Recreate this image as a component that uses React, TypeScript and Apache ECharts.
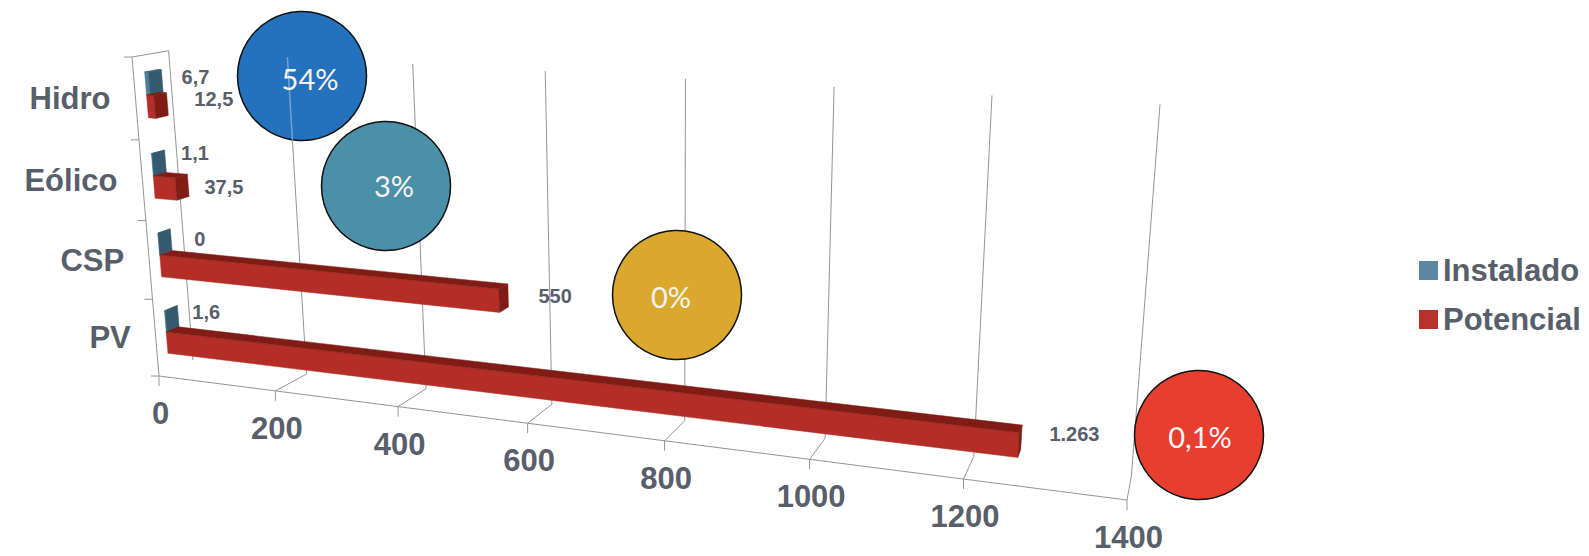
import React, { useEffect, useRef } from "react";
import * as echarts from "echarts";

const categories = ["Hidro", "Eólico", "CSP", "PV"];
const instalado = [6.7, 1.1, 0, 1.6];
const potencial = [12.5, 37.5, 550, 1263];
const valueTicks = [0, 200, 400, 600, 800, 1000, 1200, 1400];
const shareLabels = ["54%", "3%", "0%", "0,1%"];

const AXIS_MAX = 1400;
const FONT = '"Liberation Sans", Arial, sans-serif';
const TEXT = "#585e6a";
const RULE = "#949494";

// Perspective of the 3D box: images of three cube edges leaving the origin, each with
// its homogeneous weight, which sets how strongly that direction converges.
const ORIGIN = [159, 376];
const VALUE_END = [1127, 500];
const DEPTH_END = [193, 360];
const HEIGHT_END = [132, 57];
const VALUE_WEIGHT = 0.82;
const DEPTH_WEIGHT = 1.0324;
const HEIGHT_WEIGHT = 0.95;

function buildProjection() {
  const [ox, oy] = ORIGIN;
  const column = (p: number[], s: number) => [s * p[0] - ox, s * p[1] - oy, s - 1];
  const cU = column(VALUE_END, VALUE_WEIGHT);
  const cD = column(DEPTH_END, DEPTH_WEIGHT);
  const cH = column(HEIGHT_END, HEIGHT_WEIGHT);
  return (u: number, dp: number, h: number): number[] => {
    const x = u * cU[0] + dp * cD[0] + h * cH[0] + ox;
    const y = u * cU[1] + dp * cD[1] + h * cH[1] + oy;
    const w = u * cU[2] + dp * cD[2] + h * cH[2] + 1;
    return [x / w, y / w];
  };
}
const project = buildProjection();

const BAR_NEAR = 0.3;
const BAR_FAR = 0.65;

// Where each series sits inside its category band, from the band's centre, in band heights.
const instaladoSpan = [0.017, 0.297];
const potencialSpan = [-0.263, 0.017];

// Value label offsets from the end of the bar's front face.
const instaladoNudge = [[46, -7], [42, -12], [41, -5], [40, -9]];
const potencialNudge = [[59, -8], [48, -2], [56, -5], [56, -11]];

const instaladoColors = { front: "#4f7c98", top: "#2f566e", side: "#35596f" };
const potencialColors = { front: "#b22e26", top: "#7f1c16", side: "#7f1c16" };

// Callout discs: centre of the disc and of its caption.
const calloutCentres = [[302, 76], [386, 186], [677, 295], [1199, 435]];
const captionCentres = [[310, 78], [394, 185], [671, 296], [1200, 436]];
const calloutColors = ["#2472bd", "#4b8fa8", "#d9a82c", "#e83e30"];
const CALLOUT_RADIUS = 64.5;

const formatValue = (v: number) =>
  v >= 1000
    ? String(v).replace(/\B(?=(\d{3})+$)/g, ".")
    : String(v).replace(".", ",");

const line = (a: number[], b: number[], stroke = RULE, lineWidth = 1) => ({
  type: "line",
  shape: { x1: a[0], y1: a[1], x2: b[0], y2: b[1] },
  style: { stroke, lineWidth, fill: "none" },
});

const label = (text: string, x: number, y: number, size: number, align = "center", fill = TEXT, weight = "bold") => ({
  type: "text",
  x,
  y,
  style: { text, fill, fontFamily: FONT, fontSize: size, fontWeight: weight, align, verticalAlign: "middle" },
});

function barSeries(name: string, values: number[], span: number[], colors: any, nudge: number[][], legendColor: string) {
  return {
    type: "custom",
    name,
    silent: true,
    z: 4,
    itemStyle: { color: legendColor },
    encode: { x: 0, y: 1 },
    data: values.map((v, i) => [v, i]),
    renderItem: (params: any, api: any) => {
      const cs = params.coordSys;
      const i = api.value(1);
      const [px, py] = api.coord([api.value(0), i]);
      const band = api.size([0, 1])[1] / cs.height;
      const u = (px - cs.x) / cs.width;
      const mid = 1 - (py - cs.y) / cs.height;
      const h0 = mid + span[0] * band;
      const h1 = mid + span[1] * band;
      const face = (points: number[][], fill: string) => ({
        type: "polygon",
        shape: { points },
        style: { fill, stroke: fill, lineWidth: 0.5 },
      });
      const endMid = project(u, BAR_NEAR, (h0 + h1) / 2);
      return {
        type: "group",
        children: [
          face([project(0, BAR_NEAR, h0), project(u, BAR_NEAR, h0), project(u, BAR_NEAR, h1), project(0, BAR_NEAR, h1)], colors.front),
          face([project(0, BAR_NEAR, h1), project(u, BAR_NEAR, h1), project(u, BAR_FAR, h1), project(0, BAR_FAR, h1)], colors.top),
          face([project(u, BAR_NEAR, h0), project(u, BAR_FAR, h0), project(u, BAR_FAR, h1), project(u, BAR_NEAR, h1)], colors.side),
          label(formatValue(values[i]), endMid[0] + nudge[i][0], endMid[1] + nudge[i][1], 20),
        ],
      };
    },
  };
}

export default function App() {
  const ref = useRef<HTMLDivElement>(null);

  useEffect(() => {
    document.body.style.margin = "0";
    const chart = echarts.init(ref.current!, undefined, { renderer: "svg" });

    const floorLine = {
      type: "custom",
      silent: true,
      z: 1,
      encode: { x: 0 },
      data: [[0, 0]],
      renderItem: () => ({
        type: "group",
        children: [
          line(project(0, 0, 0), project(1, 0, 0)),
          line(project(0, 0, 0), project(0, 0, 1)),
          line(project(0, 0, 1), project(0, 1, 1)),
          line(project(0, 1, 1), project(0, 1, 0)),
          line(project(0, 0, 0), [project(0, 0, 0)[0] - 8, project(0, 0, 0)[1]]),
        ],
      }),
    };

    const valueRules = {
      type: "custom",
      silent: true,
      z: 2,
      encode: { x: 0, y: 1 },
      data: valueTicks.map((v) => [v, 0]),
      renderItem: (params: any, api: any) => {
        const cs = params.coordSys;
        const value = api.value(0);
        const u = (api.coord([value, 0])[0] - cs.x) / cs.width;
        const foot = project(u, 0, 0);
        const children: any[] = [
          line(foot, [foot[0], foot[1] + 10]),
          label(String(value), foot[0] + 1.5, foot[1] + 37.5, 31),
        ];
        if (value > 0) {
          children.push(line(foot, project(u, 1, 0)), line(project(u, 1, 0), project(u, 1, 1)));
        }
        return { type: "group", children };
      },
    };

    const categoryLabels = {
      type: "custom",
      silent: true,
      z: 2,
      encode: { y: 1 },
      data: categories.map((_, i) => [0, i]),
      renderItem: (params: any, api: any) => {
        const cs = params.coordSys;
        const i = api.value(1);
        const py = api.coord([0, i])[1];
        const band = api.size([0, 1])[1] / cs.height;
        const mid = 1 - (py - cs.y) / cs.height;
        const anchor = project(0, 0, mid);
        const tick = project(0, 0, mid + band / 2);
        return {
          type: "group",
          children: [
            line(tick, [tick[0] - 8, tick[1]]),
            label(categories[i], anchor[0] - 25, anchor[1], 31, "right"),
          ],
        };
      },
    };

    const uLeft = 200 / AXIS_MAX;
    const callouts: any[] = [];
    shareLabels.forEach((_, i) => {
      callouts.push({
        type: "circle",
        z: 10,
        shape: { cx: calloutCentres[i][0], cy: calloutCentres[i][1], r: CALLOUT_RADIUS },
        style: { fill: calloutColors[i], stroke: "#111111", lineWidth: 1.5 },
      });
    });
    // The 200 rule shows faintly through the first disc.
    callouts.push({
      ...line(project(uLeft, 1, 1), project(uLeft, 1, 0.744), "rgba(190,200,212,0.55)", 1.5),
      z: 11,
    });
    shareLabels.forEach((text, i) => {
      callouts.push({
        type: "text",
        z: 12,
        x: captionCentres[i][0],
        y: captionCentres[i][1],
        style: {
          text,
          fill: "#f4f4f4",
          fontFamily: 'Lato, "Open Sans", sans-serif',
          fontSize: 29,
          align: "center",
          verticalAlign: "middle",
        },
      });
    });

    chart.setOption({
      animation: false,
      backgroundColor: "#ffffff",
      grid: { left: 0, right: 0, top: 0, bottom: 0 },
      xAxis: { type: "value", min: 0, max: AXIS_MAX, interval: 200, show: false },
      yAxis: { type: "category", data: categories, inverse: true, show: false },
      legend: {
        left: 1414,
        top: 250,
        orient: "vertical",
        icon: "rect",
        itemWidth: 19,
        itemHeight: 19,
        itemGap: 18,
        selectedMode: false,
        data: ["Instalado", "Potencial"],
        textStyle: { fontFamily: FONT, fontSize: 31, fontWeight: "bold", color: TEXT, padding: [0, 0, 4, 0] },
      },
      graphic: callouts,
      series: [
        floorLine,
        valueRules,
        categoryLabels,
        barSeries("Instalado", instalado, instaladoSpan, instaladoColors, instaladoNudge, "#5b87a3"),
        barSeries("Potencial", potencial, potencialSpan, potencialColors, potencialNudge, "#b8322a"),
      ],
    });

    return () => chart.dispose();
  }, []);

  return <div ref={ref} style={{ width: 1589, height: 556 }} />;
}
